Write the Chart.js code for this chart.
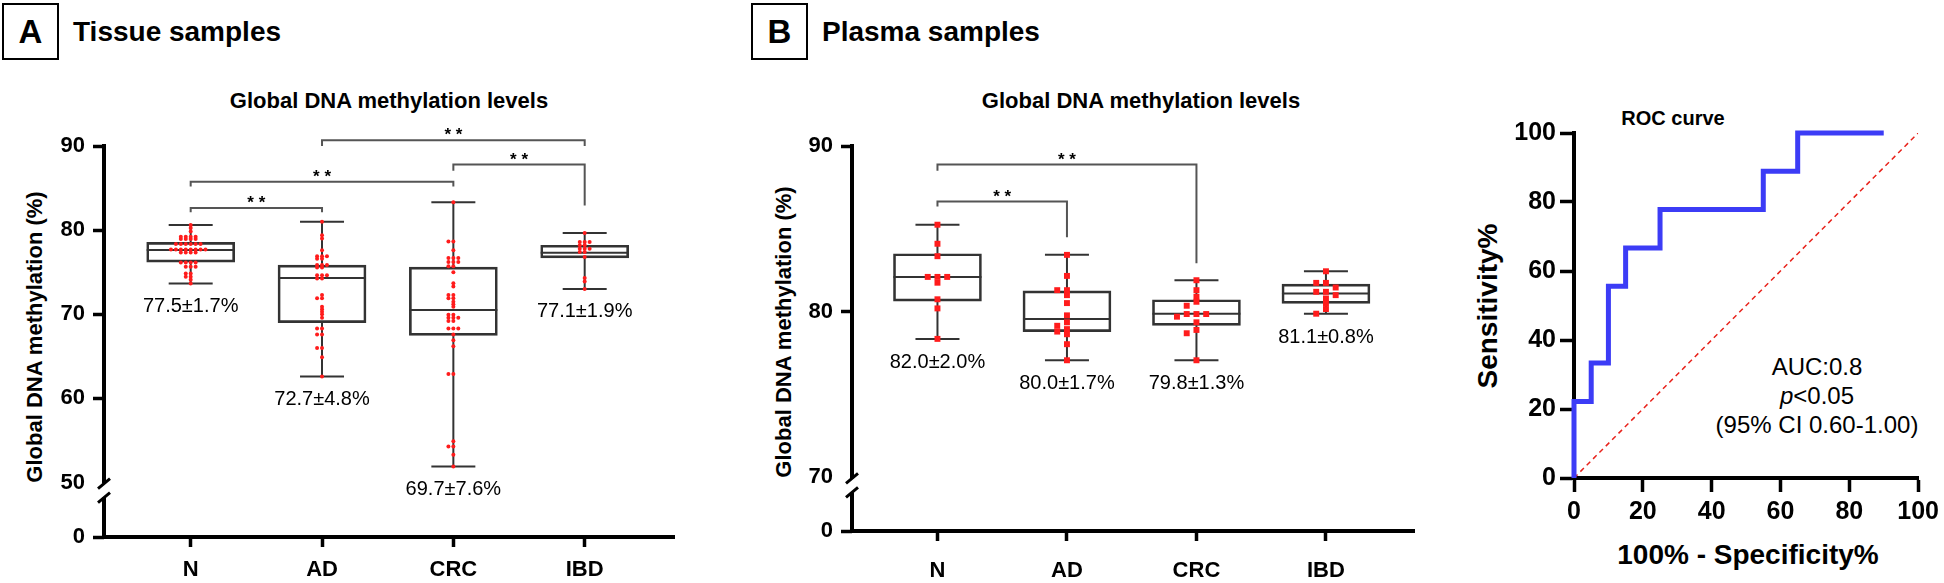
<!DOCTYPE html>
<html>
<head>
<meta charset="utf-8">
<script src="https://cdn.jsdelivr.net/npm/chart.js@4.4.1/dist/chart.umd.min.js"></script>
<style>
  body { margin:0; background:#fff; width:1944px; height:583px; position:relative; overflow:hidden;
         font-family:"Liberation Sans", Arial, sans-serif; color:#000; }
  canvas { position:absolute; }
  .t { position:absolute; white-space:nowrap; font-weight:bold; line-height:1; }
  .box { position:absolute; border:2px solid #000; box-sizing:border-box; width:57px; height:57px;
         font-size:33px; font-weight:bold; text-align:center; line-height:53px; }
  .cx { transform:translateX(-50%); }
  .rot { transform:translate(-50%,-50%) rotate(-90deg); }
</style>
</head>
<body>
<div class="box" style="left:2px;top:3px">A</div>
<div class="t" style="left:73px;top:18px;font-size:28px">Tissue samples</div>
<div class="box" style="left:751px;top:3px">B</div>
<div class="t" style="left:822px;top:18px;font-size:28px">Plasma samples</div>

<div class="t cx" style="left:389px;top:90px;font-size:22px">Global DNA methylation levels</div>
<div class="t cx" style="left:1141px;top:90px;font-size:22px">Global DNA methylation levels</div>
<div class="t cx" style="left:1673px;top:108px;font-size:20px">ROC curve</div>

<div class="t rot" style="left:35px;top:337px;font-size:22px">Global DNA methylation (%)</div>
<div class="t rot" style="left:784px;top:332px;font-size:22px">Global DNA methylation (%)</div>
<div class="t rot" style="left:1488px;top:306px;font-size:28px">Sensitivity%</div>
<div class="t cx" style="left:1748px;top:541px;font-size:28px">100% - Specificity%</div>

<div style="position:absolute;left:1817px;top:352px;transform:translateX(-50%);font-size:24px;line-height:29px;text-align:center;white-space:nowrap">
  AUC:0.8<br><i>p</i>&lt;0.05<br>(95% CI 0.60-1.00)
</div>

<canvas id="chartA" width="720" height="483" style="left:0;top:100px"></canvas>
<canvas id="chartB" width="720" height="483" style="left:740px;top:100px"></canvas>
<canvas id="chartC" width="484" height="483" style="left:1460px;top:100px"></canvas>

<script>
Chart.defaults.font.family = '"Liberation Sans", Arial, sans-serif';
Chart.defaults.color = '#000';
Chart.defaults.animation = false;
Chart.defaults.events = [];
Chart.defaults.plugins.legend.display = false;
Chart.defaults.plugins.tooltip.enabled = false;

// ---------- data: tissue samples (A) ----------
const catsA = ['N', 'AD', 'CRC', 'IBD'];
const maxA = [80.6, 81.0, 83.3, 79.65];
const q3A  = [78.55, 75.85, 75.6, 78.2];
const medA = [77.65, 74.3, 70.5, 77.3];
const q1A  = [76.2, 69.0, 67.5, 76.7];
const minA = [73.65, 62.6, 51.9, 73.0];
const statA = ['77.5±1.7%', '72.7±4.8%', '69.7±7.6%', '77.1±1.9%'];
const ticksA = [50, 60, 70, 80, 90];
const ptsA = [
  [80.6, 80.25, 79.85, 79.2, 79.2, 79.2, 79.2, 78.95, 78.95, 78.95, 78.95,
   78.35, 78.35, 78.35, 78.35, 78.35, 78.35, 77.7, 77.7, 77.7, 77.7, 77.7, 77.7, 77.7, 77.7,
   77.35, 77.35, 77.35, 77.35, 76.15, 76.15, 76.15, 76.15, 75.65, 75.65, 75.65,
   74.85, 74.85, 74.45, 74.45, 74.1, 73.65],
  [81.0, 79.4, 79.0, 77.6, 76.9, 76.9, 76.9, 76.6, 76.6, 75.85, 75.85, 75.85, 75.55, 75.55,
   74.65, 74.65, 74.65, 74.25, 74.25, 72.3, 71.9, 71.9, 70.9, 70.6, 70.3, 70.0, 69.6,
   68.3, 68.3, 67.6, 67.6, 66.0, 66.0, 64.9, 62.6],
  [83.3, 78.65, 78.65, 77.6, 76.7, 76.7, 76.7, 76.2, 76.2, 76.2, 75.7, 75.7, 75.0, 73.7, 73.3,
   72.3, 72.3, 71.9, 71.9, 71.5, 71.2, 70.9, 69.95, 69.95, 69.6, 69.6, 69.6, 69.2, 69.2,
   68.3, 68.3, 68.3, 67.6, 66.9, 66.2, 62.9, 62.9, 54.9, 54.3, 54.3, 53.3, 51.9],
  [79.65, 78.6, 78.6, 78.6, 78.2, 78.2, 77.8, 77.8, 77.8, 77.4, 77.4, 76.8, 74.3, 73.9, 73.0]
];
const brFromA  = [0, 0, 2, 1];
const brToA    = [1, 2, 3, 3];
const brLevelA = [82.62, 85.76, 87.8, 90.67];
const brLegLA  = [82.12, 85.18, 87.06, 90.0];
const brLegRA  = [82.12, 85.18, 82.94, 90.0];

// ---------- data: plasma samples (B) ----------
const catsB = ['N', 'AD', 'CRC', 'IBD'];
const maxB = [85.25, 83.43, 81.9, 82.44];
const q3B  = [83.5, 81.26, 80.72, 81.66];
const medB = [82.1, 79.56, 79.88, 81.1];
const q1B  = [80.64, 78.8, 79.18, 80.5];
const minB = [78.36, 77.07, 77.07, 79.88];
const statB = ['82.0±2.0%', '80.0±1.7%', '79.8±1.3%', '81.1±0.8%'];
const ticksB = [70, 80, 90];
const ptsB = [
  [85.25, 84.1, 83.35, 82.1, 82.1, 82.1, 81.75, 80.75, 80.2, 78.36],
  [83.43, 82.16, 81.3, 81.3, 81.0, 80.52, 79.78, 79.36, 79.15, 78.95, 78.8, 78.64, 78.04, 77.07],
  [81.9, 81.3, 80.9, 80.6, 80.36, 79.86, 79.86, 79.86, 79.7, 79.36, 78.9, 78.7, 77.07],
  [82.44, 81.74, 81.74, 81.46, 81.2, 81.2, 81.0, 80.8, 80.5, 80.16, 79.88]
];
const brFromB  = [0, 0];
const brToB    = [1, 2];
const brLevelB = [86.65, 88.88];
const brLegLB  = [86.35, 88.5];
const brLegRB  = [84.5, 82.93];

// ---------- data: ROC curve ----------
const rocFpr = [0, 0, 5, 10, 15, 25, 55, 65, 90];
const rocTpr = [0, 22.2, 33.3, 55.6, 66.7, 77.8, 88.9, 100, 100];
const diagX = [0, 100];
const diagY = [0, 100];
const rocTicks = [0, 20, 40, 60, 80, 100];

const FONT = '"Liberation Sans", Arial, sans-serif';
const RED = '#ff1c1c';
const DARK = '#333';

// spread points of one group sideways (GraphPad-like scatter)
function swarm(values, idx, slotPx, tolPx, pxPerUnit, pxPerCat) {
  const order = [0, -1, 1, -2, 2, -3, 3, -4, 4, -5, 5];
  const placed = [];
  values.forEach(v => {
    for (const k of order) {
      const hit = placed.some(p => p.k === k && Math.abs(p.v - v) * pxPerUnit < tolPx);
      if (!hit) { placed.push({ v, k }); break; }
    }
  });
  return placed.map(p => ({ x: idx + p.k * slotPx / pxPerCat, y: p.v }));
}

function boxPanel(id, p) {
  const n = p.cats.length;
  const whisk = [];
  const caps = [];
  for (let i = 0; i < n; i++) {
    whisk.push({x: i, y: p.max[i]}, {x: i, y: p.q3[i]}, {x: i, y: null},
               {x: i, y: p.q1[i]}, {x: i, y: p.min[i]}, {x: i, y: null});
    caps.push({x: i, y: p.max[i]}, {x: i, y: p.min[i]});
  }
  let pts = [];
  p.pts.forEach((vals, i) => { pts = pts.concat(swarm(vals, i, p.slot, p.tol, p.pxPerUnit, 133)); });

  const datasets = [
    { type: 'scatter', data: pts, pointStyle: p.pointStyle, pointRadius: p.pointRadius,
      pointBackgroundColor: RED, pointBorderWidth: 0, order: 0, yAxisID: 'y', clip: false },
    { type: 'scatter', data: p.cats.map((c, i) => ({x: i, y: p.med[i]})), pointStyle: 'line',
      pointRadius: 44, pointBorderColor: DARK, pointBorderWidth: 2, order: 1, yAxisID: 'y' },
    { type: 'bar', data: p.cats.map((c, i) => ({x: i, y: [p.q1[i], p.q3[i]]})), barThickness: 88,
      grouped: false, backgroundColor: 'rgba(255,255,255,0)', borderColor: DARK, borderWidth: 2,
      borderSkipped: false, order: 2, yAxisID: 'y' },
    { type: 'scatter', data: caps, pointStyle: 'line', pointRadius: 22,
      pointBorderColor: DARK, pointBorderWidth: 2, order: 3, yAxisID: 'y' },
    { type: 'line', data: whisk, showLine: true, spanGaps: false, pointRadius: 0,
      borderColor: DARK, borderWidth: 2, order: 3, yAxisID: 'y' }
  ];
  p.br.from.forEach((f, k) => {
    const t = p.br.to[k];
    datasets.push({ type: 'line', showLine: true, pointRadius: 0, borderColor: '#555', borderWidth: 2,
      order: 4, yAxisID: 'y', clip: false,
      data: [{x: f, y: p.br.legL[k]}, {x: f, y: p.br.level[k]}, {x: t, y: p.br.level[k]}, {x: t, y: p.br.legR[k]}] });
  });

  const tickFont = { family: FONT, size: 22, weight: 'bold' };
  const yGrid = { drawOnChartArea: false, tickLength: 11, tickWidth: 3.5,
    tickColor: c => (c.tick && c.tick.value === p.ymin) ? 'rgba(0,0,0,0)' : '#000' };

  const annot = {
    id: 'annot',
    afterDraw(chart) {
      const ctx = chart.ctx, xs = chart.scales.x, ys = chart.scales.y, lo = chart.scales.y0;
      const ax = chart.chartArea.left;
      // broken y axis line
      const yTop = ys.getPixelForValue(ys.max);
      const yBrk = ys.getPixelForValue(ys.min) + 1;
      const yLow = yBrk + 14;
      const yBot = lo.getPixelForValue(0);
      ctx.save();
      ctx.strokeStyle = '#000';
      ctx.lineWidth = 4;
      ctx.beginPath();
      ctx.moveTo(ax, yTop - 2); ctx.lineTo(ax, yBrk);
      ctx.moveTo(ax, yLow); ctx.lineTo(ax, yBot);
      ctx.stroke();
      ctx.lineWidth = 3;
      ctx.beginPath();
      ctx.moveTo(ax - 6, yBrk + 5); ctx.lineTo(ax + 6, yBrk - 5);
      ctx.moveTo(ax - 6, yLow + 5); ctx.lineTo(ax + 6, yLow - 5);
      ctx.stroke();
      // mean ± SD labels
      ctx.fillStyle = '#000';
      ctx.textAlign = 'center';
      ctx.textBaseline = 'alphabetic';
      ctx.font = '20px ' + FONT;
      p.stat.forEach((s, i) => ctx.fillText(s, xs.getPixelForValue(i), ys.getPixelForValue(p.min[i]) + p.statGap));
      // significance stars
      ctx.font = 'bold 17px ' + FONT;
      p.br.from.forEach((f, k) => {
        const xm = (xs.getPixelForValue(f) + xs.getPixelForValue(p.br.to[k])) / 2;
        ctx.fillText('* *', xm, ys.getPixelForValue(p.br.level[k]));
      });
      ctx.restore();
    }
  };

  return new Chart(document.getElementById(id), {
    type: 'scatter',
    data: { datasets },
    options: {
      responsive: false,
      layout: { padding: { left: 0, top: p.padTop, right: p.padRight, bottom: 0 } },
      scales: {
        x: { type: 'linear', position: 'bottom', min: -0.66, max: 3.68, offset: false,
          afterBuildTicks: s => { s.ticks = p.cats.map((c, i) => ({ value: i })); },
          ticks: { callback: v => p.cats[v], font: tickFont, color: '#000', padding: p.xPad,
                   autoSkip: false, maxRotation: 0 },
          grid: { drawOnChartArea: false, offset: false, tickLength: 10, tickWidth: 3.5, tickColor: '#000' },
          border: { display: true, width: 4, color: '#000' },
          afterFit: s => { s.height = p.xHeight; } },
        y: { type: 'linear', position: 'left', stack: 'v', stackWeight: p.wUp, weight: 1,
          min: p.ymin, max: 90,
          afterBuildTicks: s => { s.ticks = p.ticks.map(v => ({ value: v })); },
          ticks: { font: tickFont, color: '#000', padding: 8 },
          grid: yGrid, border: { display: false },
          afterFit: s => { s.width = p.yWidth; } },
        y0: { type: 'linear', position: 'left', stack: 'v', stackWeight: p.wLow, weight: 0,
          min: 0, max: 10,
          afterBuildTicks: s => { s.ticks = [{ value: 0 }]; },
          ticks: { font: tickFont, color: '#000', padding: 8 },
          grid: { drawOnChartArea: false, tickLength: 11, tickWidth: 3.5, tickColor: '#000' },
          border: { display: false },
          afterFit: s => { s.width = p.yWidth; } }
      }
    },
    plugins: [annot]
  });
}

boxPanel('chartA', {
  cats: catsA, max: maxA, q3: q3A, med: medA, q1: q1A, min: minA, stat: statA, ticks: ticksA,
  pts: ptsA, ymin: 50, pointStyle: 'circle', pointRadius: 2, slot: 5, tol: 1.5, pxPerUnit: 8.5,
  br: { from: brFromA, to: brToA, level: brLevelA, legL: brLegLA, legR: brLegRA },
  padTop: 43, padRight: 38, yWidth: 104, xHeight: 45, xPad: 10, wUp: 340, wLow: 55, statGap: 28
});

boxPanel('chartB', {
  cats: catsB, max: maxB, q3: q3B, med: medB, q1: q1B, min: minB, stat: statB, ticks: ticksB,
  pts: ptsB, ymin: 70, pointStyle: 'rect', pointRadius: 4.2, slot: 10, tol: 5, pxPerUnit: 16.7,
  br: { from: brFromB, to: brToB, level: brLevelB, legL: brLegLB, legR: brLegRB },
  padTop: 43, padRight: 28, yWidth: 112, xHeight: 52, xPad: 17, wUp: 334, wLow: 54, statGap: 29
});

// ---------- ROC curve ----------
const rocTickFont = { family: FONT, size: 25, weight: 'bold' };
new Chart(document.getElementById('chartC'), {
  type: 'scatter',
  data: {
    datasets: [
      { type: 'line', data: rocFpr.map((x, i) => ({ x, y: rocTpr[i] })), showLine: true, stepped: 'before',
        borderColor: '#3c3cf6', borderWidth: 5, pointRadius: 0, clip: false, order: 0 },
      { type: 'line', data: diagX.map((x, i) => ({ x, y: diagY[i] })), showLine: true,
        borderColor: '#e8231c', borderWidth: 1.5, borderDash: [5, 4], pointRadius: 0, order: 1 }
    ]
  },
  options: {
    responsive: false,
    layout: { padding: { left: 0, top: 33, right: 24, bottom: 0 } },
    scales: {
      x: { type: 'linear', min: 0, max: 100,
        afterBuildTicks: s => { s.ticks = rocTicks.map(v => ({ value: v })); },
        ticks: { font: rocTickFont, color: '#000', padding: 5, maxRotation: 0 },
        grid: { drawOnChartArea: false, tickLength: 14, tickWidth: 3.5, tickColor: '#000' },
        border: { display: true, width: 4, color: '#000' },
        afterFit: s => { s.height = 105; } },
      y: { type: 'linear', min: 0, max: 100,
        afterBuildTicks: s => { s.ticks = rocTicks.map(v => ({ value: v })); },
        ticks: { font: rocTickFont, color: '#000', padding: 4 },
        grid: { drawOnChartArea: false, tickLength: 14, tickWidth: 3.5, tickColor: '#000' },
        border: { display: true, width: 4, color: '#000' },
        afterFit: s => { s.width = 114; } }
    }
  }
});
</script>
</body>
</html>
